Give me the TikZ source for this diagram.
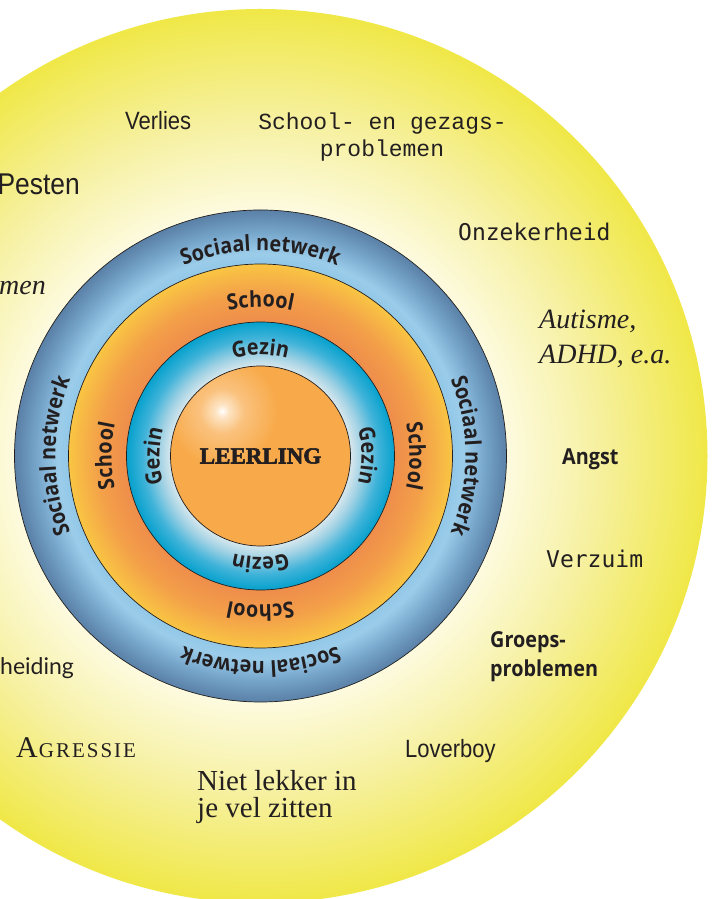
\documentclass[tikz,border=0pt]{standalone}
\usepackage{fontspec}
\usetikzlibrary{decorations.text}
\newfontfamily\osans[FakeStretch=0.9]{Open Sans}
\newfontfamily\condsans[FakeStretch=0.88]{Liberation Sans}
\newfontfamily\courfont{Liberation Mono}
\newfontfamily\dvmono{DejaVu Sans Mono}
\newfontfamily\latofont{Lato}
\newfontfamily\libserif{Liberation Serif}
\newfontfamily\stencilish[FakeBold=2.5]{Liberation Serif}

\definecolor{ink}{HTML}{231F20}
\definecolor{ycA}{HTML}{FDFBE1}
\definecolor{ycB}{HTML}{F6F09E}
\definecolor{ycC}{HTML}{F0E847}
\definecolor{blA}{HTML}{92C7E7}
\definecolor{blB}{HTML}{9BCDEA}
\definecolor{blC}{HTML}{76A5CA}
\definecolor{blD}{HTML}{5A80A6}
\definecolor{orA}{HTML}{EE8D4B}
\definecolor{orB}{HTML}{F39F49}
\definecolor{orC}{HTML}{F9C543}
\definecolor{cyA}{HTML}{D6E7ED}
\definecolor{cyB}{HTML}{9FD1E4}
\definecolor{cyC}{HTML}{40B3D9}
\definecolor{cyD}{HTML}{05A1CD}
\definecolor{leerorange}{HTML}{F8AA4A}
\definecolor{hlA}{HTML}{FDE4C4}
\definecolor{hlB}{HTML}{FAC27E}

\pgfdeclareradialshading{yellowsh}{\pgfpoint{0bp}{0bp}}{color(0bp)=(ycA); color(13.6bp)=(ycA); color(19bp)=(ycB); color(25bp)=(ycC); color(50bp)=(ycC)}
\pgfdeclareradialshading{bluesh}{\pgfpoint{0bp}{0bp}}{color(0bp)=(blA); color(19.5bp)=(blA); color(20.6bp)=(blB); color(22.8bp)=(blC); color(25bp)=(blD); color(50bp)=(blD)}
\pgfdeclareradialshading{orangesh}{\pgfpoint{0bp}{0bp}}{color(0bp)=(orA); color(17.45bp)=(orA); color(21bp)=(orB); color(25bp)=(orC); color(50bp)=(orC)}
\pgfdeclareradialshading{cyansh}{\pgfpoint{0bp}{0bp}}{color(0bp)=(cyA); color(16.8bp)=(cyA); color(19bp)=(cyB); color(22bp)=(cyC); color(25bp)=(cyD); color(50bp)=(cyD)}
\pgfdeclareradialshading{hilite}{\pgfpoint{0bp}{0bp}}{color(0bp)=(white); color(3bp)=(hlA); color(10bp)=(hlB); color(25bp)=(leerorange); color(50bp)=(leerorange)}

\newcommand\ringtxt{\osans\bfseries\fontsize{22}{26}\selectfont}

\begin{document}
\begin{tikzpicture}[x=1pt,y=1pt,
  txt/.style={inner sep=0pt, text=ink},
  ringline/.style={draw=ink, line width=0.7pt},
  ringtext/.style={decorate, decoration={text along path, text={|\ringtxt|#1}, text color=ink, text align=center}}]
\useasboundingbox (0,0) rectangle (717,899);
\clip (0,0) rectangle (717,899);
\fill[white] (0,0) rectangle (717,899);

\begin{scope}[shift={(260.5,443)}]
  \coordinate (C) at (0,0);
  \shade[shading=yellowsh] (C) circle[radius=447];
  \shade[shading=bluesh] (C) circle[radius=246];
  \shade[shading=orangesh] (C) circle[radius=192];
  \shade[shading=cyansh] (C) circle[radius=134];
  \fill[leerorange] (C) circle[radius=90];
  \begin{scope}
    \clip (C) circle[radius=90];
    \shade[shading=hilite] (-38.5,45) circle[radius=55];
  \end{scope}
  \draw[ringline] (C) circle[radius=246];
  \draw[ringline] (C) circle[radius=192];
  \draw[ringline] (C) circle[radius=134];
  \draw[ringline] (C) circle[radius=90];

  % Sociaal netwerk
  \path[ringtext=Sociaal netwerk] (180:205) arc[start angle=180, end angle=0, radius=205];
  \path[ringtext=Sociaal netwerk] (90:205) arc[start angle=90, end angle=-90, radius=205];
  \path[ringtext=Sociaal netwerk] (0:205) arc[start angle=0, end angle=-180, radius=205];
  \path[ringtext=Sociaal netwerk] (270:205) arc[start angle=270, end angle=90, radius=205];
  % School
  \path[ringtext=School] (180:149) arc[start angle=180, end angle=0, radius=149];
  \path[ringtext=School] (90:149) arc[start angle=90, end angle=-90, radius=149];
  \path[ringtext=School] (0:149) arc[start angle=0, end angle=-180, radius=149];
  \path[ringtext=School] (270:149) arc[start angle=270, end angle=90, radius=149];
  % Gezin
  \path[ringtext=Gezin] (180:101) arc[start angle=180, end angle=0, radius=101];
  \path[ringtext=Gezin] (90:101) arc[start angle=90, end angle=-90, radius=101];
  \path[ringtext=Gezin] (0:101) arc[start angle=0, end angle=-180, radius=101];
  \path[ringtext=Gezin] (270:101) arc[start angle=270, end angle=90, radius=101];

  \node[txt, font=\stencilish\bfseries\fontsize{23}{26}\selectfont] (leerling) at (C) {LEERLING};
\end{scope}

\node[txt, font=\condsans\fontsize{25}{29}\selectfont, anchor=base west] (verlies) at (125,769) {Verlies};
\node[txt, font=\courfont\fontsize{23}{27}\selectfont, anchor=base] (gezag1) at (382.5,769) {School- en gezags-};
\node[txt, font=\courfont\fontsize{23}{27}\selectfont, anchor=base] (gezag2) at (382,742) {problemen};
\node[txt, font=\condsans\fontsize{30}{34}\selectfont, anchor=base east] (pesten) at (80,704) {Pesten};
\node[txt, font=\libserif\itshape\fontsize{28}{32}\selectfont, anchor=base east] (emen) at (46,604) {emen};
\node[txt, font=\dvmono\fontsize{23}{27}\selectfont, anchor=base west] (onzeker) at (458,658) {Onzekerheid};
\node[txt, font=\libserif\itshape\fontsize{28}{32}\selectfont, anchor=base west] (autisme) at (539,570) {Autisme,};
\node[txt, font=\libserif\itshape\fontsize{28}{32}\selectfont, anchor=base west] (adhd) at (539,535) {ADHD, e.a.};
\node[txt, font=\osans\bfseries\fontsize{22}{26}\selectfont, anchor=base west] (angst) at (562,434) {Angst};
\node[txt, font=\dvmono\fontsize{23}{27}\selectfont, anchor=base west] (verzuim) at (546,331) {Verzuim};
\node[txt, font=\osans\bfseries\fontsize{22}{26}\selectfont, anchor=base west] (groeps1) at (490,251) {Groeps-};
\node[txt, font=\osans\bfseries\fontsize{22}{26}\selectfont, anchor=base west] (groeps2) at (490,222) {problemen};
\node[txt, font=\latofont\fontsize{23}{27}\selectfont, anchor=base west] (heiding) at (0,224) {heiding};
\node[txt, font=\libserif, anchor=base west] (agressie) at (16,141) {{\fontsize{30}{32}\selectfont A}\kern1pt{\fontsize{21}{32}\selectfont G\kern2pt R\kern2pt E\kern2pt S\kern2pt S\kern2pt I\kern2pt E}};
\node[txt, font=\condsans\fontsize{25}{29}\selectfont, anchor=base west] (loverboy) at (405,141) {Loverboy};
\node[txt, font=\libserif\fontsize{29}{32}\selectfont, anchor=base west] (niet1) at (197,108) {Niet lekker in};
\node[txt, font=\libserif\fontsize{29}{32}\selectfont, anchor=base west] (niet2) at (197,81) {je vel zitten};
\end{tikzpicture}
\end{document}
